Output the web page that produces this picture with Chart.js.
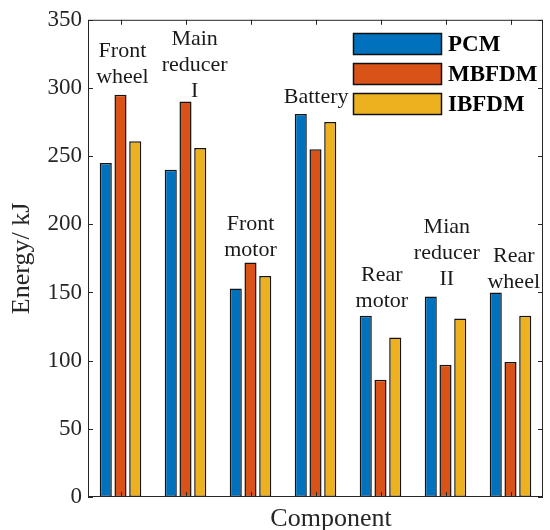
<!DOCTYPE html>
<html>
<head>
<meta charset="utf-8">
<script src="https://cdn.jsdelivr.net/npm/chart.js@4"></script>
<style>
  html, body { margin: 0; padding: 0; background: #fff; }
  #wrap { width: 550px; height: 530px; }
</style>
</head>
<body>
<div id="wrap"><canvas id="myChart"></canvas></div>
<script>
// components, one entry per group (each name split into its text lines)
const categories = [
    ['Front', 'wheel'],
    ['Main', 'reducer', 'I'],
    ['Front', 'motor'],
    ['Battery'],
    ['Rear', 'motor'],
    ['Mian', 'reducer', 'II'],
    ['Rear', 'wheel'],
];

const seriesNames = ['PCM', 'MBFDM', 'IBFDM'];
const pcm = [245, 240, 153, 281, 133, 147, 150];
const mbfdm = [295, 290, 172, 255, 86, 97, 99];
const ibfdm = [261, 256, 162, 275, 117, 131, 133];

const yMin = 0;
const yMax = 350;
const yStep = 50;

// where each component name sits: category index and energy value of its first line
const nameX = [0.03, 1.14, 2.0, 3.01, 4.02, 5.02, 6.05];
const nameY = [326.6, 336.1, 199.9, 292.9, 162.6, 197.7, 176.5];

const colors = ['#0072BD', '#D95319', '#EDB120'];
const ink = '#262626';
const serif = '"Liberation Serif", "Times New Roman", serif';

const frame = {
    id: 'frame',
    afterDatasetsDraw(chart) {
        const { ctx, chartArea: a, scales } = chart;
        const x = scales.x;
        const y = scales.y;
        ctx.save();

        // inward ticks on all four sides
        ctx.strokeStyle = ink;
        ctx.lineWidth = 1;
        ctx.beginPath();
        y.ticks.forEach((t) => {
            const py = Math.round(y.getPixelForValue(t.value)) + 0.5;
            ctx.moveTo(a.left, py);
            ctx.lineTo(a.left + 5, py);
            ctx.moveTo(a.right, py);
            ctx.lineTo(a.right - 5, py);
        });
        categories.forEach((c, i) => {
            const px = Math.round(x.getPixelForValue(i)) + 0.5;
            ctx.moveTo(px, a.top);
            ctx.lineTo(px, a.top + 5);
            ctx.moveTo(px, a.bottom);
            ctx.lineTo(px, a.bottom - 5);
        });
        ctx.stroke();
        ctx.strokeRect(a.left + 0.5, a.top + 0.5, a.width - 1, a.height - 1);

        // component names above the groups
        ctx.fillStyle = '#1a1a1a';
        ctx.font = '22px ' + serif;
        ctx.textAlign = 'center';
        ctx.textBaseline = 'middle';
        categories.forEach((lines, i) => {
            const px = x.getPixelForValue(nameX[i]);
            const py = y.getPixelForValue(nameY[i]);
            lines.forEach((line, k) => ctx.fillText(line, px, py + k * 26));
        });

        // legend
        ctx.font = 'bold 23px ' + serif;
        ctx.textAlign = 'left';
        chart.data.datasets.forEach((ds, k) => {
            const top = 33 + k * 30;
            ctx.fillStyle = ds.backgroundColor;
            ctx.fillRect(353, top, 89, 22);
            ctx.strokeStyle = '#111';
            ctx.lineWidth = 1.5;
            ctx.strokeRect(353.5, top + 0.5, 88, 21);
            ctx.fillStyle = '#000';
            ctx.fillText(ds.label, 448, top + 12);
        });

        // x axis title
        ctx.fillStyle = ink;
        ctx.font = '26px ' + serif;
        ctx.textAlign = 'center';
        ctx.textBaseline = 'alphabetic';
        ctx.fillText('Component', 331, 526);

        ctx.restore();
    },
};

const ctx = document.getElementById('myChart').getContext('2d');
new Chart(ctx, {
    type: 'bar',
    data: {
        labels: categories,
        datasets: [pcm, mbfdm, ibfdm].map((values, k) => ({
            label: seriesNames[k],
            data: values,
            backgroundColor: colors[k],
            borderColor: '#141414',
            borderWidth: 1.5,
            borderSkipped: false,
            categoryPercentage: 0.68,
            barPercentage: 0.82,
        })),
    },
    options: {
        responsive: true,
        maintainAspectRatio: false,
        animation: false,
        layout: { padding: { top: 19, right: 7, left: 0, bottom: 0 } },
        plugins: {
            legend: { display: false },
            tooltip: { enabled: false },
        },
        scales: {
            x: {
                afterFit: (s) => { s.height = 33; },
                grid: { display: false, drawTicks: false },
                border: { display: false },
                ticks: { display: false },
            },
            y: {
                min: yMin,
                max: yMax,
                afterFit: (s) => { s.width = 88; },
                grid: { display: false, drawTicks: false },
                border: { display: false },
                ticks: {
                    stepSize: yStep,
                    padding: 6,
                    color: ink,
                    font: { family: serif, size: 23 },
                },
                title: {
                    display: true,
                    text: 'Energy/ kJ',
                    color: ink,
                    font: { family: serif, size: 26 },
                    padding: { top: 7, bottom: 0 },
                },
            },
        },
    },
    plugins: [frame],
});
</script>
</body>
</html>
